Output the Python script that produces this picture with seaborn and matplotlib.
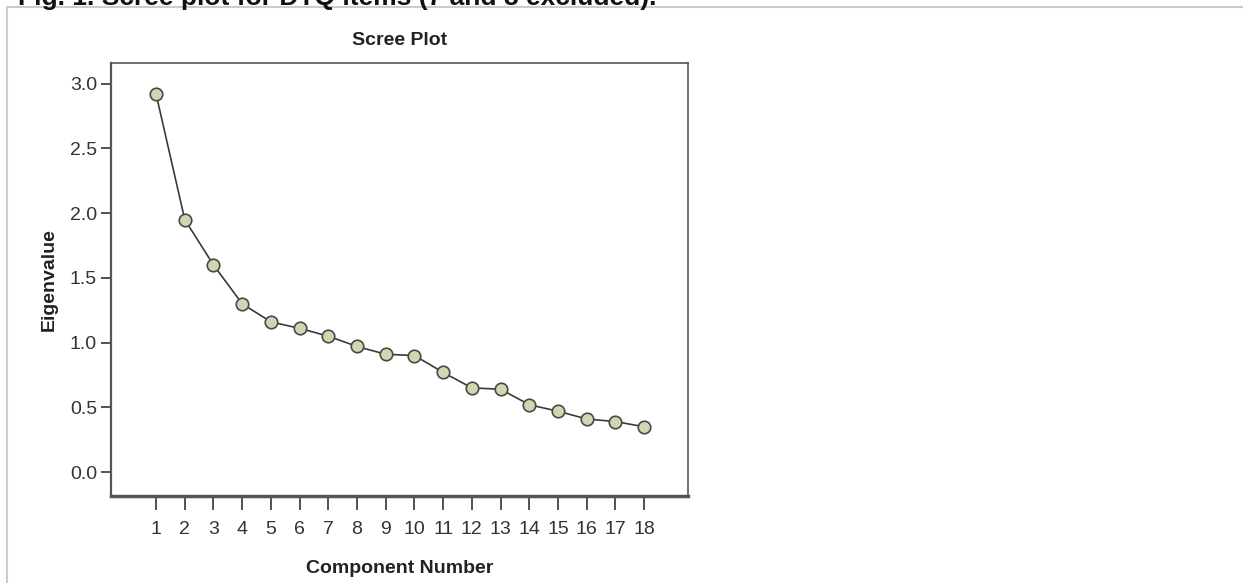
import numpy as np
import pandas as pd
import seaborn as sns
import matplotlib.pyplot as plt
from matplotlib.patches import Rectangle

# dados
componentes = list(range(1, 19))
autovalores = [2.92, 1.95, 1.60, 1.30, 1.16, 1.11, 1.05, 0.97, 0.91,
               0.90, 0.77, 0.65, 0.64, 0.52, 0.47, 0.41, 0.39, 0.35]
yticks = [0.0, 0.5, 1.0, 1.5, 2.0, 2.5, 3.0]

df = pd.DataFrame({'Component Number': componentes, 'Eigenvalue': autovalores})

sns.set_style("white")
plt.rcParams['font.family'] = ['Liberation Sans', 'DejaVu Sans']

W, H = 1243, 583
fig = plt.figure(figsize=(W / 100, H / 100), dpi=100)
# caixa dos eixos: x 111..688, y 63..496 (pixels)
ax = fig.add_axes([111 / W, 1 - 496 / H, (688 - 111) / W, (496 - 63) / H])

sns.lineplot(data=df, x='Component Number', y='Eigenvalue', ax=ax,
             color='#3a3a3a', linewidth=1.2, marker='o', markersize=9,
             markerfacecolor='#d3d4b6', markeredgecolor='#4a4a40',
             markeredgewidth=1.2)

ax.set_xlim(-0.57, 19.53)
ax.set_ylim(-0.185, 3.16)
ax.set_xticks(componentes)
ax.set_xticklabels([str(c) for c in componentes])
ax.set_yticks(yticks)
ax.set_yticklabels(['%.1f' % v for v in yticks])
ax.tick_params(axis='both', labelsize=14, colors='#333333', direction='out')
ax.tick_params(axis='y', length=7, width=1.2, left=True, pad=3)
ax.tick_params(axis='x', length=10, width=1.2, bottom=True, pad=8)

for lado, sp in ax.spines.items():
    sp.set_color('#555555')
    sp.set_linewidth(1.2)
ax.spines['bottom'].set_linewidth(2.5)
ax.spines['left'].set_linewidth(1.6)

ax.set_title('Scree Plot', fontsize=14, fontweight='bold', pad=13, color='#222222')
ax.set_xlabel('Component Number', fontsize=14, fontweight='bold', labelpad=16, color='#222222')
ax.set_ylabel('Eigenvalue', fontsize=14, fontweight='bold', labelpad=9, color='#222222')

# moldura cinza e legenda da figura (cortada no topo, como no original)
fig.patches.append(Rectangle((7 / W, -0.01), 1.0, 1 - 7 / H + 0.01,
                             transform=fig.transFigure, fill=False,
                             edgecolor='#cccccc', linewidth=1.5))
fig.text(18 / W, 1 - 5 / H, 'Fig. 1. Scree plot for DTQ items (7 and 8 excluded).',
         fontsize=19, fontweight='bold', va='baseline', ha='left', color='#111111')

fig.savefig('out.png', dpi=100)
